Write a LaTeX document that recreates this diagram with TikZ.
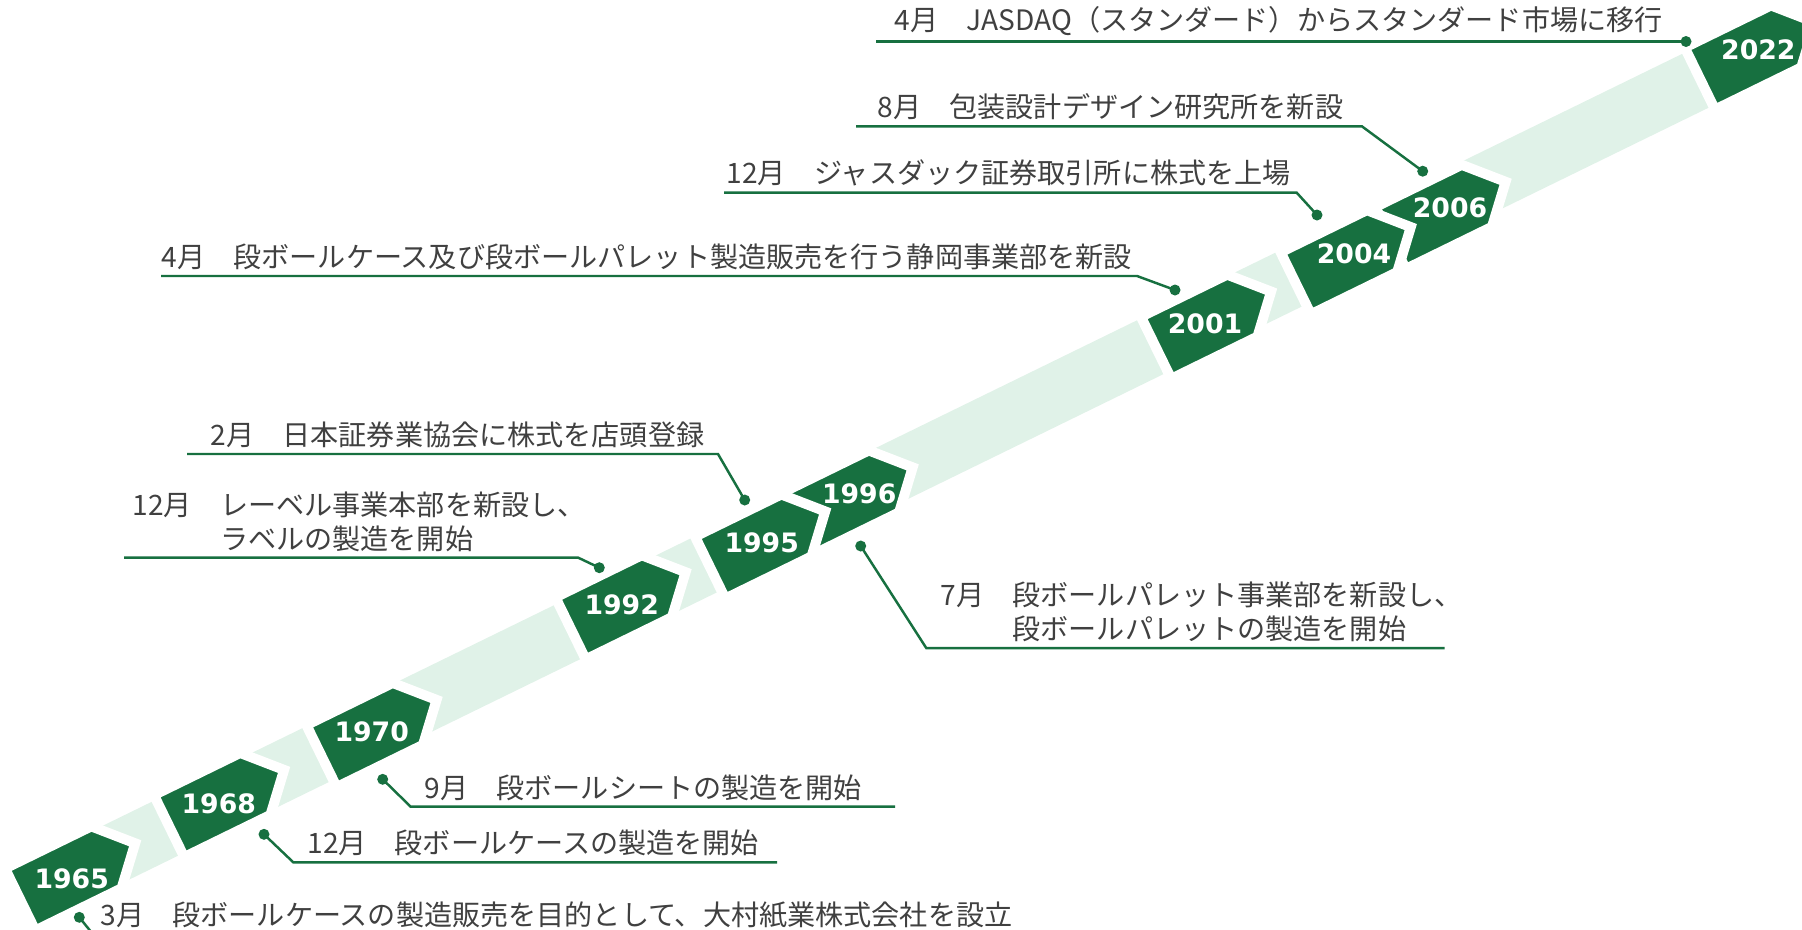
\documentclass[tikz,border=0pt]{standalone}
\usepackage{fontspec}
\setmainfont{Noto Sans CJK JP}
\newfontfamily\yearfont{DejaVu Sans}

\definecolor{darkgreen}{RGB}{23,112,64}
\definecolor{bandgreen}{RGB}{224,242,232}
\definecolor{textgray}{RGB}{64,64,64}

\begin{document}
\begin{tikzpicture}[
    event/.style={anchor=south west,inner sep=0pt,text=textgray,align=left,font=\fontsize{8pt}{9.7pt}\selectfont},
    year/.style={text=white,font=\yearfont\bfseries\fontsize{7.6pt}{8pt}\selectfont},
    dot/.style={circle,fill=darkgreen,inner sep=0pt,minimum size=0.11cm},
    callout/.style={darkgreen,line width=0.7pt}
]
    \clip (0,0) rectangle (18.02,-9.29);

    % Tag centres
    \foreach \yr/\x/\y in {1965/0.633/-8.784,1968/2.122/-8.05,1970/3.647/-7.35,1992/6.137/-6.073,1995/7.533/-5.465,1996/8.408/-5.025,2001/11.992/-3.267,2004/13.389/-2.622,2006/14.337/-2.169,2022/17.43/-0.575} {
        \coordinate (c\yr) at (\x,\y);
    }

    % Band
    \draw[bandgreen,line width=0.6cm] (c1965) -- (c2022);

    % Year tags (later first, so earlier ones lie on top)
    \foreach \yr in {2022,2006,2004,2001,1996,1995,1992,1970,1968,1965} {
        \begin{scope}[shift={(c\yr)},rotate=26.05]
            \filldraw[fill=darkgreen,draw=white,line width=0.1cm] (-0.48,-0.345) -- (0.48,-0.345) -- (0.80,0) -- (0.48,0.345) -- (-0.48,0.345) -- cycle;
        \end{scope}
    }
    \foreach \yr/\x/\y in {1965/0.717/-8.783,1968/2.188/-8.04,1970/3.717/-7.317,1992/6.217/-6.05,1995/7.617/-5.425,1996/8.592/-4.933,2001/12.05/-3.233,2004/13.54/-2.54,2006/14.50/-2.075,2022/17.583/-0.50} {
        \node[year] (y\yr) at (\x,\y) {\yr};
    }

    % 2022
    \node[dot] (d2022) at (16.86,-0.415) {};
    \coordinate (s2022) at (8.757,-0.415);
    \draw[callout] (d2022.center) -- (s2022);
    \node[event] (t2022) at (8.94,-0.36) {4月　JASDAQ（スタンダード）からスタンダード市場に移行};

    % 2006
    \node[dot] (d2006) at (14.227,-1.712) {};
    \coordinate (k2006) at (13.62,-1.264);
    \coordinate (s2006) at (8.56,-1.264);
    \draw[callout] (d2006.center) -- (k2006) -- (s2006);
    \node[event] (t2006) at (8.77,-1.209) {8月　包装設計デザイン研究所を新設};

    % 2004
    \node[dot] (d2004) at (13.17,-2.15) {};
    \coordinate (k2004) at (12.967,-1.927);
    \coordinate (s2004) at (7.24,-1.927);
    \draw[callout] (d2004.center) -- (k2004) -- (s2004);
    \node[event] (t2004) at (7.26,-1.872) {12月　ジャスダック証券取引所に株式を上場};

    % 2001
    \node[dot] (d2001) at (11.75,-2.90) {};
    \coordinate (k2001) at (11.37,-2.76);
    \coordinate (s2001) at (1.61,-2.76);
    \draw[callout] (d2001.center) -- (k2001) -- (s2001);
    \node[event] (t2001) at (1.61,-2.705) {4月　段ボールケース及び段ボールパレット製造販売を行う静岡事業部を新設};

    % 1995
    \node[dot] (d1995) at (7.447,-5.00) {};
    \coordinate (k1995) at (7.18,-4.54);
    \coordinate (s1995) at (1.87,-4.54);
    \draw[callout] (d1995.center) -- (k1995) -- (s1995);
    \node[event] (t1995) at (2.10,-4.485) {2月　日本証券業協会に株式を店頭登録};

    % 1992
    \node[dot] (d1992) at (5.993,-5.677) {};
    \coordinate (k1992) at (5.783,-5.577);
    \coordinate (s1992) at (1.24,-5.577);
    \draw[callout] (d1992.center) -- (k1992) -- (s1992);
    \node[event] (t1992) at (1.32,-5.522) {12月　レーベル事業本部を新設し、\\\phantom{12月　}ラベルの製造を開始};

    % 1996
    \node[dot] (d1996) at (8.607,-5.46) {};
    \coordinate (k1996) at (9.263,-6.481);
    \coordinate (e1996) at (14.445,-6.481);
    \draw[callout] (d1996.center) -- (k1996) -- (e1996);
    \node[event] (t1996) at (9.40,-6.426) {7月　段ボールパレット事業部を新設し、\\\phantom{7月　}段ボールパレットの製造を開始};

    % 1970
    \node[dot] (d1970) at (3.827,-7.793) {};
    \coordinate (k1970) at (4.107,-8.067);
    \coordinate (e1970) at (8.95,-8.067);
    \draw[callout] (d1970.center) -- (k1970) -- (e1970);
    \node[event] (t1970) at (4.24,-8.012) {9月　段ボールシートの製造を開始};

    % 1968
    \node[dot] (d1968) at (2.64,-8.343) {};
    \coordinate (k1968) at (2.933,-8.623);
    \coordinate (e1968) at (7.77,-8.623);
    \draw[callout] (d1968.center) -- (k1968) -- (e1968);
    \node[event] (t1968) at (3.067,-8.568) {12月　段ボールケースの製造を開始};

    % 1965
    \node[dot] (d1965) at (0.793,-9.173) {};
    \coordinate (k1965) at (0.932,-9.345);
    \coordinate (e1965) at (10.3,-9.345);
    \draw[callout] (d1965.center) -- (k1965) -- (e1965);
    \node[event] (t1965) at (1.00,-9.29) {3月　段ボールケースの製造販売を目的として、大村紙業株式会社を設立};
\end{tikzpicture}
\end{document}
